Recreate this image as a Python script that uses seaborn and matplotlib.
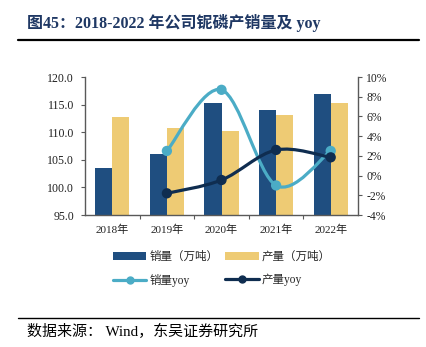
import numpy as np
import pandas as pd
import matplotlib
matplotlib.use("Agg")
import matplotlib.pyplot as plt
from matplotlib.path import Path
from matplotlib.patches import PathPatch, Patch
from matplotlib.lines import Line2D
import seaborn as sns

# ---- data ----
years = ["2018年", "2019年", "2020年", "2021年", "2022年"]
sales = [103.5, 106.0, 115.2, 114.0, 116.9]        # 销量（万吨）
output = [112.7, 110.7, 110.2, 113.1, 115.2]       # 产量（万吨）
yoy_years = ["2019年", "2020年", "2021年", "2022年"]
sales_yoy = [2.5, 8.7, -1.0, 2.5]                  # 销量yoy (%)
output_yoy = [-1.8, -0.45, 2.6, 1.85]              # 产量yoy (%)
left_ticks = [95.0, 100.0, 105.0, 110.0, 115.0, 120.0]
right_ticks = [-4, -2, 0, 2, 4, 6, 8, 10]

C_SALES = "#1F4E80"
C_OUTPUT = "#EECB74"
C_SALES_YOY = "#4BACC6"
C_OUTPUT_YOY = "#0F2D50"
SPINE = "#595959"

sns.set_theme(style="white")
plt.rcParams["font.family"] = ["Liberation Serif", "Noto Sans CJK SC", "DejaVu Sans"]

fig = plt.figure(figsize=(4.26, 3.47), dpi=100)
ax = fig.add_axes([85 / 426, 1 - 215 / 347, 273 / 426, 138 / 347])

df = pd.DataFrame({
    "year": years * 2,
    "value": sales + output,
    "kind": ["销量（万吨）"] * len(years) + ["产量（万吨）"] * len(years),
})
sns.barplot(data=df, x="year", y="value", hue="kind", order=years,
            hue_order=["销量（万吨）", "产量（万吨）"],
            palette=[C_SALES, C_OUTPUT], width=0.63, gap=0,
            saturation=1, ax=ax, legend=False, bottom=0, linewidth=0)

ax.set_ylim(95, 120)
ax.set_xlim(-0.5, len(years) - 0.5)
ax.set_yticks(left_ticks)
ax.set_yticklabels([f"{v:.1f}" for v in left_ticks])
ax.set_xlabel("")
ax.set_ylabel("")

# category boundary ticks on x axis
ax.set_xticks(range(len(years)))
ax.set_xticklabels(years)
ax.set_xticks([i + 0.5 for i in range(len(years) - 1)], minor=True)
ax.tick_params(axis="x", which="major", length=0, pad=7, labelsize=8, colors="#222222")
ax.tick_params(axis="x", which="minor", length=3, width=0.8, color=SPINE, direction="out", bottom=True)
ax.tick_params(axis="y", length=3, width=0.8, color=SPINE, direction="out", left=True,
               labelsize=8.6, labelcolor="#222222", pad=5)

for s in ["top", "right"]:
    ax.spines[s].set_visible(False)
for s in ["left", "bottom"]:
    ax.spines[s].set_color(SPINE)
    ax.spines[s].set_linewidth(1.0)

# ---- yoy lines on the secondary axis ----
ax2 = ax.twinx()
ax2.set_ylim(-4, 10)
ax2.set_yticks(right_ticks)
ax2.set_yticklabels([f"{v}%" for v in right_ticks])
ax2.tick_params(axis="y", length=3, width=0.8, color=SPINE, direction="out", right=True,
                labelsize=8.4, labelcolor="#222222", pad=3)
for s in ["top", "left", "bottom"]:
    ax2.spines[s].set_visible(False)
ax2.spines["right"].set_color(SPINE)
ax2.spines["right"].set_linewidth(1.0)


def smooth_path(xs, ys):
    """Catmull-Rom style cubic Bezier through the given points."""
    pts = np.column_stack([xs, ys]).astype(float)
    n = len(pts)
    verts = [pts[0]]
    codes = [Path.MOVETO]
    for i in range(n - 1):
        p0 = pts[i - 1] if i > 0 else pts[i]
        p1 = pts[i]
        p2 = pts[i + 1]
        p3 = pts[i + 2] if i + 2 < n else pts[i + 1]
        c1 = p1 + (p2 - p0) / 6.0
        c2 = p2 - (p3 - p1) / 6.0
        verts += [c1, c2, p2]
        codes += [Path.CURVE4] * 3
    return Path(verts, codes)


xpos = [years.index(y) for y in yoy_years]
for vals, col in [(sales_yoy, C_SALES_YOY), (output_yoy, C_OUTPUT_YOY)]:
    ax2.add_patch(PathPatch(smooth_path(xpos, vals), facecolor="none",
                            edgecolor=col, lw=2.3, capstyle="round", zorder=3))
    sns.scatterplot(x=xpos, y=vals, color=col, s=55, edgecolor="none",
                    ax=ax2, zorder=4, legend=False)
ax2.set_xlim(-0.5, len(years) - 0.5)

# ---- legend ----
handles = [
    Patch(facecolor=C_SALES, edgecolor="none"),
    Line2D([], [], color=C_SALES_YOY, lw=2.3, marker="o", markersize=5),
    Patch(facecolor=C_OUTPUT, edgecolor="none"),
    Line2D([], [], color=C_OUTPUT_YOY, lw=2.3, marker="o", markersize=5),
]
labels = ["销量（万吨）", "销量yoy", "产量（万吨）", "产量yoy"]
fig.legend(handles, labels, ncol=2, loc="upper left",
           bbox_to_anchor=(113 / 426, 1 - 251 / 347), frameon=False,
           prop={"family": ["Liberation Serif", "Noto Sans CJK SC"], "size": 8.3},
           handlelength=2.9, handleheight=0.8, handletextpad=0.25,
           columnspacing=0.6, labelspacing=0.95, borderpad=0, borderaxespad=0)

# ---- title, rules and source ----
fig.text(27 / 426, 1 - 23 / 347, "图45：2018-2022 年公司铌磷产销量及 yoy",
         fontsize=11.5, fontweight="bold", color="#1F3864", va="center", ha="left",
         family=["Liberation Serif", "Noto Sans CJK SC"])
fig.add_artist(Line2D([18 / 426, 419 / 426], [1 - 40 / 347, 1 - 40 / 347],
                      color="black", lw=1.6, transform=fig.transFigure))
fig.add_artist(Line2D([18 / 426, 419 / 426], [1 - 318 / 347, 1 - 318 / 347],
                      color="black", lw=1.0, transform=fig.transFigure))
fig.text(27 / 426, 1 - 331 / 347, "数据来源： Wind，东吴证券研究所",
         fontsize=10.8, color="black", va="center", ha="left",
         family=["Liberation Serif", "Noto Sans CJK SC"])

fig.savefig("out.png", dpi=100)
